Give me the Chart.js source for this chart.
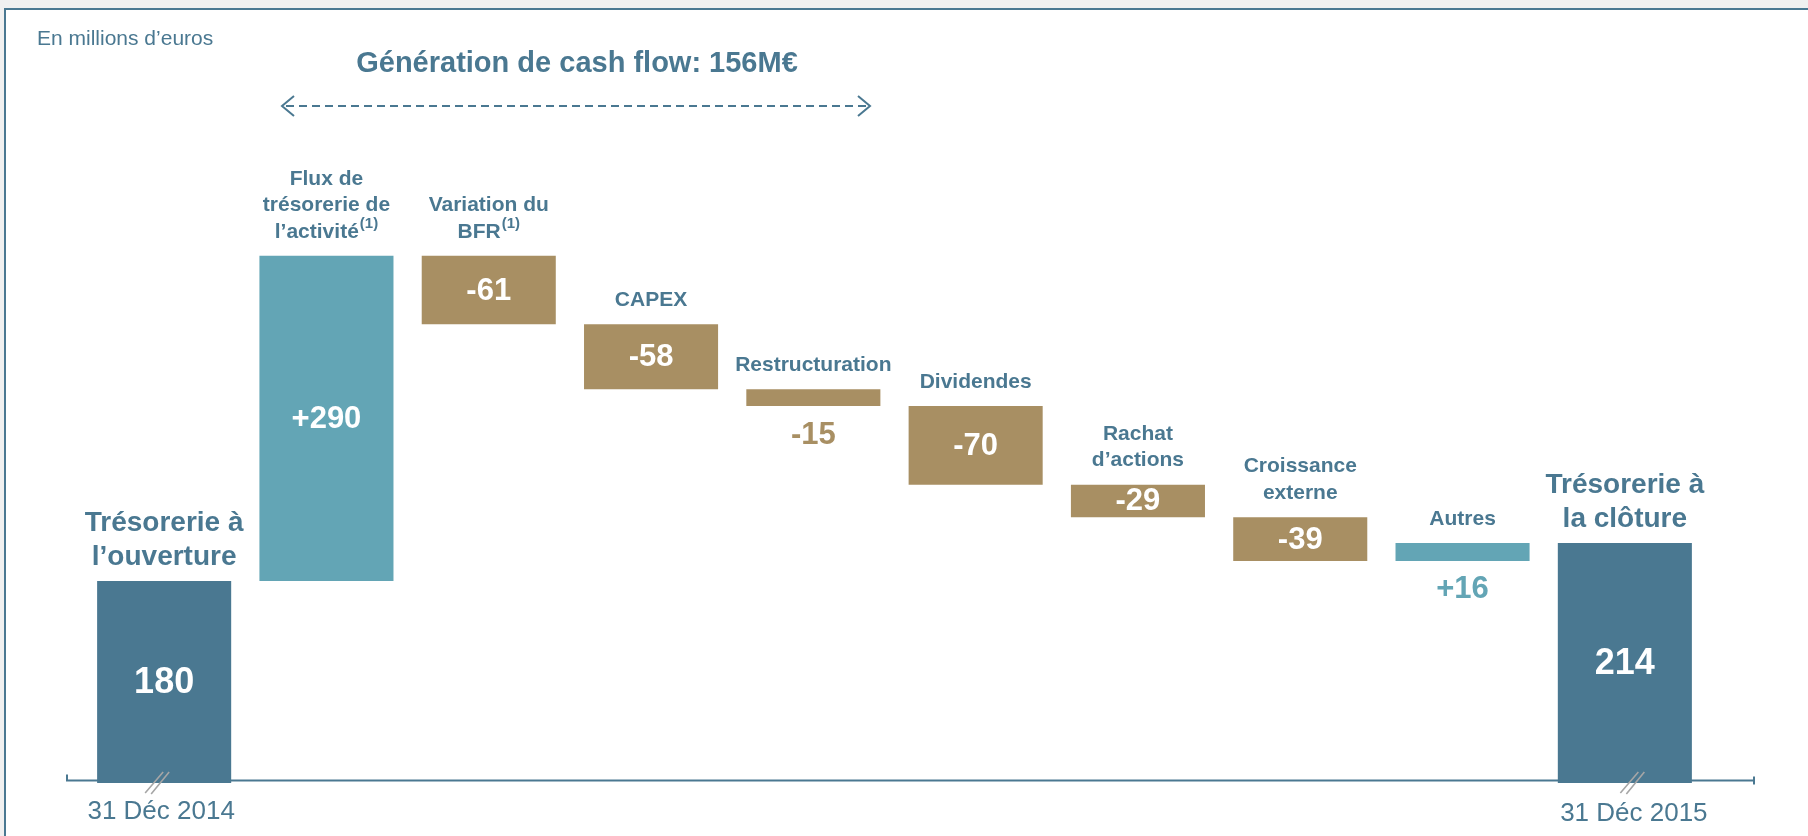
<!DOCTYPE html>
<html>
<head>
<meta charset="utf-8">
<script src="https://cdn.jsdelivr.net/npm/chart.js@4.4.1/dist/chart.umd.min.js"></script>
<style>
  html, body { margin: 0; padding: 0; background: #f0f0f0; overflow: hidden; }
  #wrap { position: relative; width: 1808px; height: 836px; }
</style>
</head>
<body>
<div id="wrap"><canvas id="cashChart"></canvas></div>
<script>
// values in millions of euros
const openingCash = 180;
const closingCash = 214;
const flows = [290, -61, -58, -15, -70, -29, -39, 16];

const categoryLines = [
  ["Trésorerie à", "l’ouverture"],
  ["Flux de", "trésorerie de", "l’activité"],
  ["Variation du", "BFR"],
  ["CAPEX"],
  ["Restructuration"],
  ["Dividendes"],
  ["Rachat", "d’actions"],
  ["Croissance", "externe"],
  ["Autres"],
  ["Trésorerie à", "la clôture"]
];
const footnotes = [null, "(1)", "(1)", null, null, null, null, null, null, null];
const dateLabels = ["31 Déc 2014", "31 Déc 2015"];
const unitLabel = "En millions d’euros";
const titleText = "Génération de cash flow: 156M€";

const DARK = "#4a7891";
const TEAL = "#63a5b5";
const TAN = "#a88f63";
const FONT = "'Liberation Sans', Arial, Helvetica, sans-serif";

// build floating ranges for the waterfall
const ranges = [[0, openingCash]];
const kinds = ["total"];
let running = openingCash;
flows.forEach(v => {
  ranges.push([running, running + v]);
  kinds.push(v >= 0 ? "up" : "down");
  running += v;
});
ranges.push([0, closingCash]);
kinds.push("total");

const values = [openingCash, ...flows, closingCash];
const barColors = kinds.map(k => k === "total" ? DARK : (k === "up" ? TEAL : TAN));

function valueText(i) {
  const v = values[i];
  if (kinds[i] === "total") return String(v);
  return v > 0 ? `+${v}` : String(v);
}

const framePlugin = {
  id: "frame",
  beforeDraw(chart) {
    const ctx = chart.ctx;
    ctx.save();
    ctx.fillStyle = "#ffffff";
    ctx.fillRect(5, 9, chart.width, chart.height);
    ctx.strokeStyle = DARK;
    ctx.lineWidth = 2;
    ctx.beginPath();
    ctx.moveTo(5, chart.height);
    ctx.lineTo(5, 9);
    ctx.lineTo(chart.width, 9);
    ctx.stroke();
    ctx.restore();
  }
};

const axisPlugin = {
  id: "baseAxis",
  beforeDatasetsDraw(chart) {
    const ctx = chart.ctx;
    const y = chart.scales.y.getPixelForValue(0) - 2.5;
    ctx.save();
    ctx.strokeStyle = DARK;
    ctx.lineWidth = 2;
    ctx.beginPath();
    ctx.moveTo(67, y - 6);
    ctx.lineTo(67, y);
    ctx.lineTo(1754, y);
    ctx.moveTo(1754, y - 4);
    ctx.lineTo(1754, y + 4);
    ctx.stroke();
    ctx.restore();
  }
};

function drawLines(ctx, lines, sup, cx, lastY, size, lh) {
  lines.forEach((line, i) => {
    const y = lastY - (lines.length - 1 - i) * lh;
    const isLast = i === lines.length - 1;
    ctx.font = `bold ${size}px ${FONT}`;
    const w = ctx.measureText(line).width;
    let sw = 0;
    if (isLast && sup) {
      ctx.font = `bold 15px ${FONT}`;
      sw = ctx.measureText(sup).width + 1;
    }
    const x0 = cx - (w + sw) / 2;
    ctx.font = `bold ${size}px ${FONT}`;
    ctx.fillText(line, x0, y);
    if (sw) {
      ctx.font = `bold 15px ${FONT}`;
      ctx.fillText(sup, x0 + w + 1, y - 8);
    }
  });
}

const labelPlugin = {
  id: "waterfallLabels",
  afterDatasetsDraw(chart) {
    const ctx = chart.ctx;
    const bars = chart.getDatasetMeta(0).data;
    ctx.save();
    ctx.textBaseline = "middle";
    ctx.textAlign = "left";

    bars.forEach((bar, i) => {
      const top = Math.min(bar.y, bar.base);
      const bottom = Math.max(bar.y, bar.base);
      const isTotal = kinds[i] === "total";

      // category labels above bars
      ctx.fillStyle = DARK;
      drawLines(ctx, categoryLines[i], footnotes[i], bar.x, top - 24,
        isTotal ? 28 : 21, isTotal ? 33.5 : 26.5);

      // values
      const txt = valueText(i);
      const size = isTotal ? 36 : 31;
      ctx.font = `bold ${size}px ${FONT}`;
      ctx.textAlign = "center";
      if (bottom - top < 30) {
        ctx.fillStyle = barColors[i];
        ctx.fillText(txt, bar.x, bottom + 29);
      } else {
        ctx.fillStyle = "#ffffff";
        ctx.fillText(txt, bar.x, (top + bottom) / 2 + 1);
      }
      ctx.textAlign = "left";
    });

    // axis break marks and dates
    const first = bars[0], last = bars[bars.length - 1];
    const base = chart.scales.y.getPixelForValue(0);
    ctx.strokeStyle = "#a6a6a6";
    ctx.lineWidth = 1.6;
    [[first.x - 7], [last.x + 7.5]].forEach(([cx]) => {
      ctx.beginPath();
      ctx.moveTo(cx - 12, base + 10);
      ctx.lineTo(cx + 6, base - 11);
      ctx.moveTo(cx - 6, base + 11);
      ctx.lineTo(cx + 12, base - 11);
      ctx.stroke();
    });

    ctx.fillStyle = DARK;
    ctx.font = `26px ${FONT}`;
    ctx.textAlign = "center";
    ctx.fillText(dateLabels[0], first.x - 3, base + 28.5);
    ctx.fillText(dateLabels[1], last.x + 9, base + 30.5);

    // unit and headline
    ctx.textAlign = "left";
    ctx.font = `21px ${FONT}`;
    ctx.fillText(unitLabel, 37, 39);
    ctx.textAlign = "center";
    ctx.font = `bold 29px ${FONT}`;
    ctx.fillText(titleText, 577, 64);

    // dashed double arrow
    const ay = 106, ax1 = 282, ax2 = 870;
    ctx.strokeStyle = DARK;
    ctx.lineWidth = 2;
    ctx.setLineDash([8, 5]);
    ctx.beginPath();
    ctx.moveTo(ax1 + 4, ay);
    ctx.lineTo(ax2 - 4, ay);
    ctx.stroke();
    ctx.setLineDash([]);
    ctx.beginPath();
    ctx.moveTo(ax1 + 12, ay - 10);
    ctx.lineTo(ax1, ay);
    ctx.lineTo(ax1 + 12, ay + 10);
    ctx.moveTo(ax2 - 12, ay - 10);
    ctx.lineTo(ax2, ay);
    ctx.lineTo(ax2 - 12, ay + 10);
    ctx.stroke();
    ctx.restore();
  }
};

new Chart(document.getElementById("cashChart"), {
  type: "bar",
  data: {
    labels: categoryLines.map(l => l.join(" ")),
    datasets: [{
      data: ranges,
      backgroundColor: barColors,
      borderWidth: 0,
      borderSkipped: false,
      barPercentage: 0.826,
      categoryPercentage: 1
    }]
  },
  options: {
    responsive: true,
    maintainAspectRatio: false,
    animation: false,
    layout: { padding: { left: 83, right: 102, top: 110, bottom: 53 } },
    scales: {
      x: { display: false, offset: true },
      y: { display: false, min: 0, max: 600 }
    },
    plugins: {
      legend: { display: false },
      tooltip: { enabled: false }
    }
  },
  plugins: [framePlugin, axisPlugin, labelPlugin]
});
</script>
</body>
</html>
